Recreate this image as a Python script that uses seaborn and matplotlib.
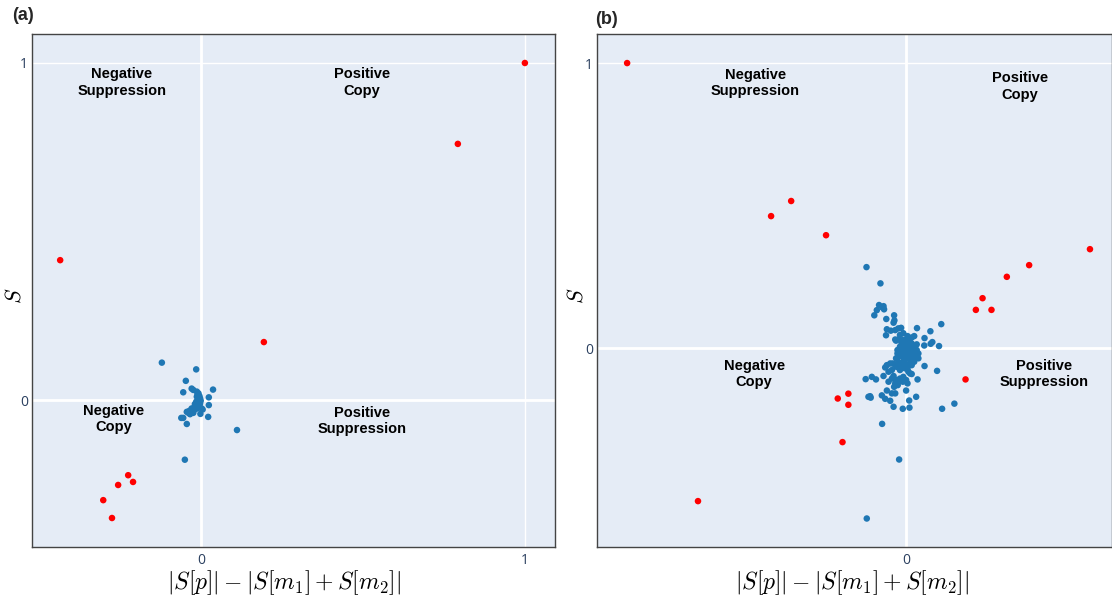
import matplotlib
matplotlib.use("Agg")
import matplotlib.pyplot as plt
import seaborn as sns
import pandas as pd

# ---------------- Panel (a) data ----------------
a_red_x = [1.0, 0.793, -0.435, 0.194, -0.302, -0.275, -0.256, -0.225, -0.210]
a_red_y = [1.0, 0.760, 0.415, 0.172, -0.297, -0.350, -0.252, -0.223, -0.243]

a_blue_x = [-0.121, -0.015, -0.047, -0.055, -0.029, 0.037, 0.024, 0.024, 0.022, -0.002,
            0.111, -0.055, -0.061, -0.044, -0.050,
            -0.024, -0.013, -0.008, -0.005, -0.003, -0.001, -0.003, -0.005, -0.008, -0.013,
            -0.019, -0.024, -0.029, -0.034, -0.039, -0.036, -0.029, -0.019, -0.011, -0.008,
            -0.013, -0.011, 0.002, 0.005, -0.024, -0.034, -0.044, -0.015, -0.019, -0.007]
a_blue_y = [0.111, 0.091, 0.057, 0.023, 0.034, 0.031, 0.008, -0.015, -0.050, -0.041,
            -0.089, -0.053, -0.053, -0.071, -0.177,
            0.030, 0.025, 0.020, 0.012, 0.005, -0.002, -0.010, -0.015, -0.020, -0.025,
            -0.028, -0.030, -0.033, -0.035, -0.038, -0.032, -0.025, -0.018, -0.010, -0.002,
            0.010, 0.015, -0.025, -0.028, -0.038, -0.042, -0.035, -0.005, -0.012, 0.008]

# ---------------- Panel (b) data ----------------
b_red_x = [-1.0, -0.484, -0.412, -0.287, -0.746, 0.659, 0.441, 0.361, 0.274, 0.250, 0.306,
           0.213, -0.207, -0.245, -0.207, -0.228]
b_red_y = [1.0, 0.463, 0.516, 0.396, -0.537, 0.347, 0.291, 0.250, 0.175, 0.134, 0.134,
           -0.110, -0.160, -0.177, -0.199, -0.330]

b_blue_x = [
    # core
    -0.022, -0.010, 0.005, 0.020, 0.029, -0.012, 0.000, 0.012, -0.028, -0.036,
    -0.016, -0.004, 0.008, 0.020, 0.032, 0.038, 0.044, 0.032, 0.017, 0.005,
    -0.010, -0.022, -0.031, -0.016, -0.004, 0.008, 0.024, 0.038, 0.044, 0.029,
    0.014, 0.002, -0.012, -0.024, -0.036, -0.028, -0.016, -0.004, 0.008, 0.020,
    -0.039, -0.048, -0.022, -0.007, 0.005, -0.031, 0.014, 0.026,
    # mid-lower cluster
    -0.069, -0.057, -0.051, -0.063, -0.045, -0.051, -0.034, -0.022, -0.010, -0.016,
    0.000, 0.005, -0.039, -0.030, -0.043, -0.012, 0.008, 0.014, 0.020, -0.004,
    -0.022, -0.034, 0.005, -0.016,
    # outliers
    -0.142, -0.092, -0.097, -0.081, -0.105, -0.114, -0.079, -0.086, -0.043, -0.071,
    -0.045, -0.042, 0.126, 0.039, 0.087, -0.069, -0.055, -0.039, -0.028, -0.018,
    -0.072, 0.066, 0.094, 0.088, 0.118, 0.065, 0.038, -0.039, 0.066, 0.111,
    -0.075, -0.081, -0.145, -0.123, -0.108, -0.063, 0.041, -0.135, -0.129, -0.127,
    -0.087, -0.075, -0.057, -0.069, -0.051, -0.039, 0.000, 0.036, 0.011, -0.045,
    -0.012, 0.012, 0.129, 0.173, -0.086, -0.025, -0.141]
b_blue_y = [
    # core
    0.046, 0.052, 0.042, 0.037, 0.042, 0.028, 0.030, 0.026, 0.030, 0.026,
    0.016, 0.014, 0.011, 0.016, 0.005, -0.007, -0.019, -0.025, -0.007, -0.001,
    -0.001, 0.005, -0.007, -0.013, -0.016, -0.019, -0.030, -0.033, -0.036, -0.048,
    -0.042, -0.036, -0.030, -0.028, -0.036, -0.048, -0.052, -0.054, -0.060, -0.060,
    -0.060, -0.054, -0.066, -0.042, -0.025, -0.019, 0.005, -0.013,
    # mid-lower cluster
    -0.060, -0.054, -0.077, -0.083, -0.098, -0.107, -0.112, -0.107, -0.101, -0.115,
    -0.112, -0.124, -0.124, -0.130, -0.136, -0.118, -0.083, -0.089, -0.091, -0.071,
    -0.077, -0.066, -0.073, -0.060,
    # outliers
    0.284, 0.227, 0.151, 0.147, 0.133, 0.115, 0.136, 0.143, 0.115, 0.102,
    0.089, 0.097, 0.084, 0.070, 0.059, 0.066, 0.061, 0.063, 0.069, 0.071,
    0.045, 0.035, 0.021, 0.015, 0.007, 0.009, 0.013, 0.030, -0.063, -0.080,
    -0.068, -0.098, -0.109, -0.101, -0.110, -0.118, -0.110, -0.171, -0.169, -0.174,
    -0.166, -0.178, -0.185, -0.149, -0.159, -0.159, -0.149, -0.171, -0.184, -0.206,
    -0.213, -0.209, -0.213, -0.195, -0.266, -0.391, -0.598]

quadrant_labels = ["Negative\nSuppression", "Positive\nCopy", "Negative\nCopy", "Positive\nSuppression"]
a_label_x = [-0.244, 0.497, -0.269, 0.497]
a_label_y = [0.941, 0.941, -0.056, -0.062]
b_label_x = [-0.541, 0.409, -0.545, 0.495]
b_label_y = [0.930, 0.919, -0.091, -0.091]

panel_titles = ["(a)", "(b)"]
x_title = r"$|S[p]| - |S[m_1] + S[m_2]|$"
y_title = r"$S$"

BG = "#E5ECF6"
TICK_C = "#2a3f5f"
BLUE = "#1f77b4"
RED = "#ff0000"


def make_df(bx, by, rx, ry):
    d1 = pd.DataFrame({"x": bx, "y": by, "kind": "normal"})
    d2 = pd.DataFrame({"x": rx, "y": ry, "kind": "outlier"})
    return pd.concat([d1, d2], ignore_index=True)


sns.set_theme(style="white")
plt.rcParams["font.family"] = ["Liberation Sans", "DejaVu Sans"]
plt.rcParams["mathtext.fontset"] = "cm"

fig = plt.figure(figsize=(11.12, 6.0), dpi=100)
ax_a = fig.add_axes([32 / 1112, 53 / 600, (555 - 32) / 1112, (547 - 34) / 600])
ax_b = fig.add_axes([597 / 1112, 53 / 600, (1112 - 597) / 1112, (547 - 34) / 600])

configs = [
    (ax_a, make_df(a_blue_x, a_blue_y, a_red_x, a_red_y), a_label_x, a_label_y,
     (-0.522, 1.093), (-0.436, 1.086), [0, 1], [0, 1]),
    (ax_b, make_df(b_blue_x, b_blue_y, b_red_x, b_red_y), b_label_x, b_label_y,
     (-1.108, 0.738), (-0.698, 1.102), [0], [0, 1]),
]

for ax, df, lx, ly, xlim, ylim, xt, yt in configs:
    ax.set_facecolor(BG)
    ax.set_xlim(*xlim)
    ax.set_ylim(*ylim)
    ax.set_xticks(xt)
    ax.set_yticks(yt)
    ax.grid(True, color="white", lw=1.0, zorder=0)
    ax.set_axisbelow(True)
    ax.axhline(0, color="white", lw=2.0, zorder=1)
    ax.axvline(0, color="white", lw=2.0, zorder=1)
    sns.scatterplot(data=df, x="x", y="y", hue="kind",
                    palette={"normal": BLUE, "outlier": RED},
                    s=22, edgecolor="none", linewidth=0, legend=False,
                    ax=ax, zorder=3)
    for t, x, y in zip(quadrant_labels, lx, ly):
        ax.text(x, y, t, ha="center", va="center", fontsize=10.5,
                fontweight="bold", color="black", linespacing=1.25, zorder=4)
    ax.tick_params(axis="both", length=0, labelcolor=TICK_C)
    for lab in ax.get_xticklabels() + ax.get_yticklabels():
        lab.set_fontfamily(["Open Sans", "DejaVu Sans"])
        lab.set_fontsize(10)
    ax.tick_params(axis="x", pad=4)
    ax.tick_params(axis="y", pad=3)
    for sp in ax.spines.values():
        sp.set_color("#444444")
        sp.set_linewidth(1.0)
    ax.set_xlabel(x_title, fontsize=17, color="black")
    ax.set_ylabel(y_title, fontsize=16, color="black")

ax_a.xaxis.set_label_coords((284 - 32) / 523, -0.042)
ax_b.xaxis.set_label_coords((852 - 597) / 515, -0.042)
ax_a.yaxis.set_label_coords(-0.012, 0.49)
ax_b.yaxis.set_label_coords(-0.019, 0.49)

fig.text(12 / 1112, 1 - 16 / 600, panel_titles[0], ha="left", va="center",
         fontsize=13, fontweight="bold")
fig.text(595 / 1112, 1 - 20 / 600, panel_titles[1], ha="left", va="center",
         fontsize=13, fontweight="bold")

fig.savefig("out.png", dpi=100)
